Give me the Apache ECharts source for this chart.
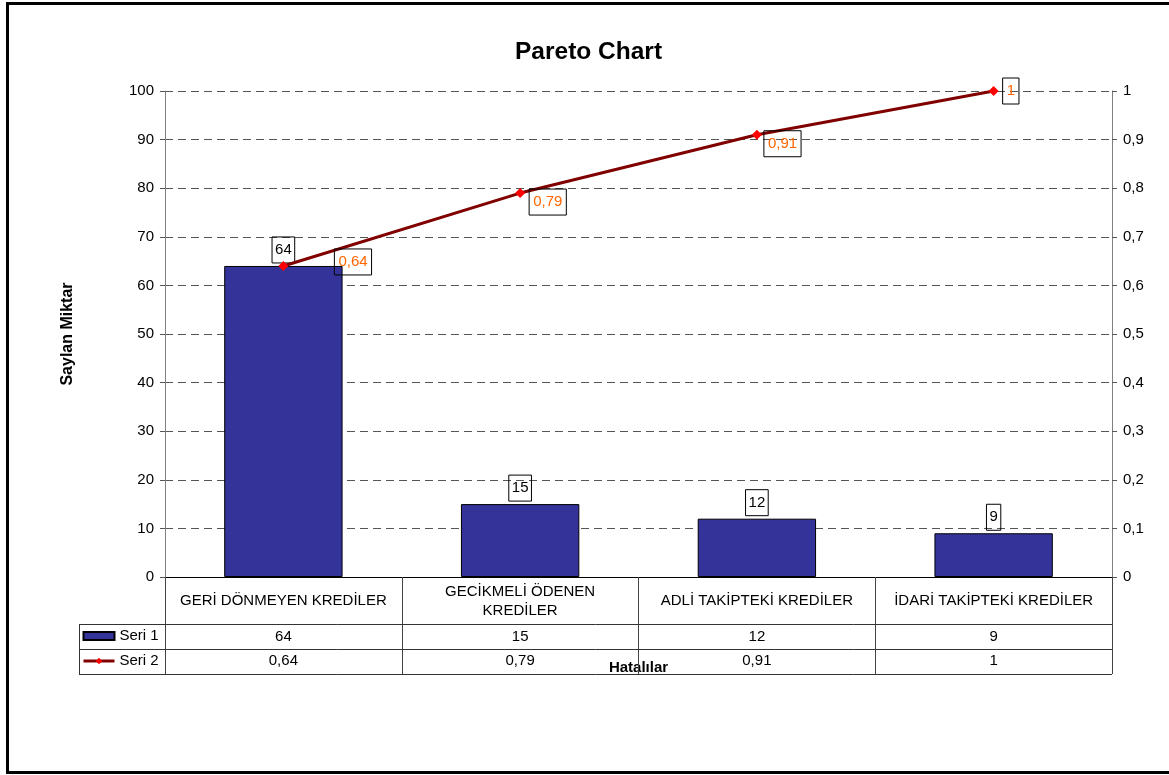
<!DOCTYPE html>
<html>
<head>
<meta charset="utf-8">
<script src="https://cdn.jsdelivr.net/npm/echarts@6/dist/echarts.min.js"></script>
<style>
html,body{margin:0;padding:0;background:#fff;}
#chart{width:1169px;height:775px;}
</style>
</head>
<body>
<div id="chart"></div>
<script>
// ---- data ----
var categories = ['GERİ DÖNMEYEN KREDİLER', 'GECİKMELİ ÖDENEN KREDİLER', 'ADLİ TAKİPTEKİ KREDİLER', 'İDARİ TAKİPTEKİ KREDİLER'];
var seri1 = [64, 15, 12, 9];
var seri2 = [0.64, 0.79, 0.91, 1];
var seriesNames = ['Seri 1', 'Seri 2'];
var leftTicks = { min: 0, max: 100, interval: 10 };
var rightTicks = { min: 0, max: 1, interval: 0.1 };

// ---- layout / style ----
var FONT = "'Liberation Sans', Arial, sans-serif";
var G = { left: 165, right: 57, top: 91, bottom: 198 };
var lineLabelOffsets = [[41, -4], [-1, 9], [-3, 9], [-1, 0]];
var CAT_FONT_SIZE = 15;
var CAT_WRAP_WIDTH = 225;
function comma(v) { return String(v).replace('.', ','); }

// word wrap using real text measurement
var measureCtx = document.createElement('canvas').getContext('2d');
function wrapText(text, maxW, fontSize) {
  measureCtx.font = fontSize + "px 'Liberation Sans', Arial, sans-serif";
  var words = text.split(' ');
  var lines = [];
  var cur = '';
  words.forEach(function (w) {
    var test = cur ? cur + ' ' + w : w;
    if (cur && measureCtx.measureText(test).width > maxW) {
      lines.push(cur);
      cur = w;
    } else {
      cur = test;
    }
  });
  if (cur) lines.push(cur);
  return lines.join('\n');
}

var chart = echarts.init(document.getElementById('chart'), null, { renderer: 'canvas' });

var plotRight = 1169 - G.right;
var axisY = 775 - G.bottom;

var option = {
  animation: false,
  backgroundColor: '#fff',
  textStyle: { fontFamily: FONT },
  title: {
    text: 'Pareto Chart',
    left: 510, top: 35,
    textStyle: { fontFamily: FONT, fontSize: 24.5, fontWeight: 'bold', color: '#000' }
  },
  legend: {
    orient: 'vertical',
    left: 82, top: 628,
    padding: 0,
    itemGap: 9,
    itemWidth: 31, itemHeight: 8,
    textStyle: { fontFamily: FONT, fontSize: 15, color: '#000', lineHeight: 16 },
    data: [{ name: seriesNames[0], icon: 'rect' }, { name: seriesNames[1], lineStyle: { width: 3 } }]
  },
  grid: { left: G.left, right: G.right, top: G.top, bottom: G.bottom, containLabel: false },
  xAxis: [
    {
      type: 'category', data: categories, position: 'bottom',
      boundaryGap: true,
      axisLine: { show: true, lineStyle: { color: '#000', width: 1 } },
      axisTick: { show: true, inside: false, length: 97, alignWithLabel: false, lineStyle: { color: '#444' } },
      axisLabel: {
        show: true, interval: 0, margin: 24, verticalAlign: 'middle', align: 'center',
        lineHeight: 19,
        fontFamily: FONT, fontSize: CAT_FONT_SIZE, color: '#000',
        formatter: function (v) { return wrapText(v, CAT_WRAP_WIDTH, CAT_FONT_SIZE); }
      },
      splitLine: { show: false },
      name: 'Hatalılar', nameLocation: 'middle', nameGap: 91,
      nameTextStyle: { fontFamily: FONT, fontSize: 15, fontWeight: 'bold', color: '#000', verticalAlign: 'middle' }
    },
    {
      type: 'category', data: categories, position: 'bottom',
      axisLine: { show: false }, axisTick: { show: false }, splitLine: { show: false },
      axisLabel: {
        show: true, interval: 0, margin: 60, verticalAlign: 'middle',
        fontFamily: FONT, fontSize: 15, color: '#000',
        formatter: function (v, i) { return String(seri1[i]); }
      }
    },
    {
      type: 'category', data: categories, position: 'bottom',
      axisLine: { show: false }, axisTick: { show: false }, splitLine: { show: false },
      axisLabel: {
        show: true, interval: 0, margin: 84, verticalAlign: 'middle',
        fontFamily: FONT, fontSize: 15, color: '#000',
        formatter: function (v, i) { return comma(seri2[i]); }
      }
    }
  ],
  yAxis: [
    {
      type: 'value', min: leftTicks.min, max: leftTicks.max, interval: leftTicks.interval,
      position: 'left',
      axisLine: { show: true, lineStyle: { color: '#808080', width: 1 } },
      axisTick: { show: true, inside: false, length: 5, lineStyle: { color: '#555' } },
      axisLabel: { margin: 11, fontFamily: FONT, fontSize: 15, color: '#000' },
      splitLine: { show: true, lineStyle: { color: '#555', type: [8, 5], width: 1 } },
      name: 'Saylan Miktar', nameLocation: 'middle', nameGap: 97, nameRotate: 90,
      nameTextStyle: { fontFamily: FONT, fontSize: 16, fontWeight: 'bold', color: '#000', verticalAlign: 'middle' }
    },
    {
      type: 'value', min: rightTicks.min, max: rightTicks.max, interval: rightTicks.interval,
      position: 'right',
      axisLine: { show: true, lineStyle: { color: '#808080', width: 1 } },
      axisTick: { show: true, inside: false, length: 5, lineStyle: { color: '#555' } },
      axisLabel: { margin: 11, fontFamily: FONT, fontSize: 15, color: '#000', formatter: function (v) { return comma(+v.toFixed(1)); } },
      splitLine: { show: false }
    }
  ],
  series: [
    {
      name: seriesNames[0], type: 'bar', xAxisIndex: 0, yAxisIndex: 0,
      data: seri1, barWidth: '50%',
      itemStyle: { color: '#333399', borderColor: '#000', borderWidth: 1 },
      label: {
        show: true, position: 'top', distance: 3,
        fontFamily: FONT, fontSize: 15, color: '#000', lineHeight: 16,
        borderColor: '#000', borderWidth: 1, padding: [5, 3, 5, 3]
      },
      z: 2
    },
    {
      name: seriesNames[1], type: 'line', xAxisIndex: 0, yAxisIndex: 1,
      data: seri2.map(function (v, i) {
        return { value: v, label: { offset: lineLabelOffsets[i] } };
      }),
      lineStyle: { color: '#800000', width: 3 },
      itemStyle: { color: '#FF0000' },
      symbol: 'diamond', symbolSize: 10, showAllSymbol: true,
      label: {
        show: true, position: 'right', distance: 5,
        fontFamily: FONT, fontSize: 15, color: '#FF6600', lineHeight: 16,
        borderColor: '#000', borderWidth: 1, padding: [5, 4, 5, 4],
        formatter: function (p) { return comma(p.value); }
      },
      z: 5
    }
  ],
  graphic: [
    { type: 'rect', z: 100, silent: true, shape: { x: 7.5, y: 3.5, width: 1180, height: 769 }, style: { fill: 'none', stroke: '#000', lineWidth: 3 } },
    { type: 'line', z: 50, silent: true, shape: { x1: 79, y1: axisY + 47.5, x2: plotRight, y2: axisY + 47.5 }, style: { stroke: '#333', lineWidth: 1 } },
    { type: 'line', z: 50, silent: true, shape: { x1: 79, y1: axisY + 72.5, x2: plotRight, y2: axisY + 72.5 }, style: { stroke: '#333', lineWidth: 1 } },
    { type: 'line', z: 50, silent: true, shape: { x1: 79, y1: axisY + 97.5, x2: plotRight, y2: axisY + 97.5 }, style: { stroke: '#333', lineWidth: 1 } },
    { type: 'line', z: 50, silent: true, shape: { x1: 79.5, y1: axisY + 47, x2: 79.5, y2: axisY + 98 }, style: { stroke: '#333', lineWidth: 1 } }
  ]
};
chart.setOption(option);
</script>
</body>
</html>
